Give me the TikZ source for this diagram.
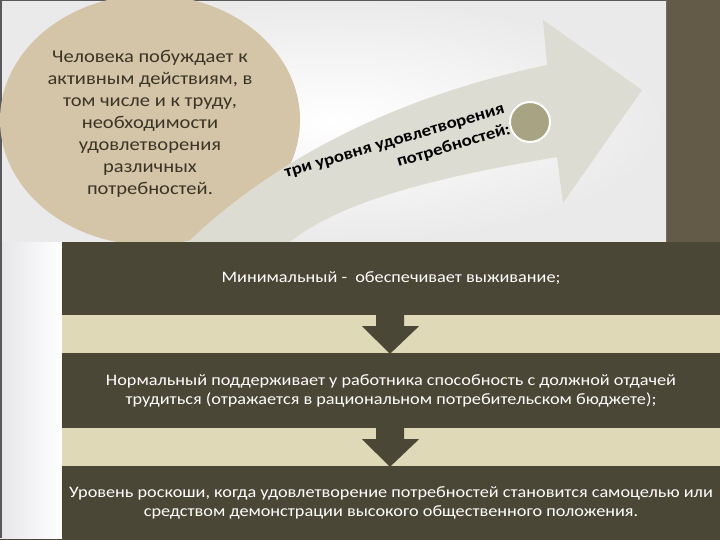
\documentclass[tikz,border=0pt]{standalone}
\usepackage{fontspec}
\setmainfont{Carlito}[FakeStretch=1.14]
\usetikzlibrary{shapes.geometric,calc}
\definecolor{darkbg}{HTML}{4B4737}
\definecolor{sidestrip}{HTML}{635B47}
\definecolor{bandcol}{HTML}{DFD9B8}
\definecolor{tancol}{HTML}{D5C5A8}
\definecolor{arrowcol}{HTML}{DCDCD2}
\definecolor{dotcol}{HTML}{A8A383}
\definecolor{panelgray}{HTML}{EAEAEA}
\definecolor{stripgray}{HTML}{E6E6EA}
\definecolor{inktext}{HTML}{3A3527}
\tikzset{
  darkbox/.style={rectangle, fill=darkbg, minimum width=658pt, inner sep=0pt, text=white, align=center,
    font=\fontsize{16}{19}\selectfont},
  bandbox/.style={rectangle, fill=bandcol, minimum width=658pt, minimum height=38pt, inner sep=0pt},
  downarrow/.style={fill=darkbg},
}
\begin{document}
\begin{tikzpicture}[x=1pt,y=-1pt]
\useasboundingbox (0,0) rectangle (720,540);
\fill[darkbg] (0,0) rectangle (720,540);
\fill[sidestrip] (666,0) rectangle (720,242);
% white panel
\shade[inner color=white, outer color=panelgray] (0,0) rectangle (666,242);
\shade[left color=stripgray, right color=white] (0,242) rectangle (62,538);
\fill[gray!70!black] (0,0) rectangle (666,1.5);
\fill[gray!70!black] (0,0) rectangle (1.5,538);
% tan ellipse
\node[ellipse, fill=tancol, minimum width=300pt, minimum height=250pt, inner sep=0pt] (needbg) at (150,120) {};
% curved arrow
\fill[arrowcol] (180,250) .. controls (260,170) and (380,100) .. (547,65)
  -- (543,20) -- (642,90) -- (563,203) -- (557,157)
  .. controls (420,180) and (330,205) .. (280,250) -- cycle;
\node[text=inktext, align=center, font=\fontsize{18}{22}\selectfont] (needtext) at (150,124)
  {Человека побуждает к\\активным действиям, в\\том числе и к труду,\\необходимости\\удовлетворения\\различных\\потребностей.};
\node[circle, fill=dotcol, draw=white, line width=2pt, minimum size=40pt, inner sep=0pt] (dot) at (530,122) {};
\node[rotate=16.5, align=right, text=black, font=\bfseries\fontsize{16.5}{21.5}\selectfont] (lvl) at (398,153)
  {три уровня удовлетворения\\потребностей:};
% bottom blocks
\node[darkbox, minimum height=73pt] (b1) at (391,278.5) {Минимальный -\ \ обеспечивает выживание;};
\node[bandbox] (s1) at (391,334) {};
\node[darkbox, minimum height=75pt] (b2) at (391,390.5) {Нормальный поддерживает у работника способность с должной отдачей\\трудиться (отражается в рациональном потребительском бюджете);};
\node[bandbox] (s2) at (391,447) {};
\node[darkbox, minimum height=74pt] (b3) at (391,503) {Уровень роскоши, когда удовлетворение потребностей становится самоцелью или\\средством демонстрации высокого общественного положения.};
% down arrows
\fill[downarrow] ($(b1.south)+(-15,-1)$) -- ($(b1.south)+(13,-1)$) -- ($(b1.south)+(13,11)$) -- ($(b1.south)+(28,11)$)
  -- ($(b2.north)+(-1,1)$) -- ($(b1.south)+(-29,11)$) -- ($(b1.south)+(-15,11)$) -- cycle;
\fill[downarrow] ($(b2.south)+(-15,-1)$) -- ($(b2.south)+(13,-1)$) -- ($(b2.south)+(13,11)$) -- ($(b2.south)+(28,11)$)
  -- ($(b3.north)+(-1,1)$) -- ($(b2.south)+(-29,11)$) -- ($(b2.south)+(-15,11)$) -- cycle;
\end{tikzpicture}
\end{document}
